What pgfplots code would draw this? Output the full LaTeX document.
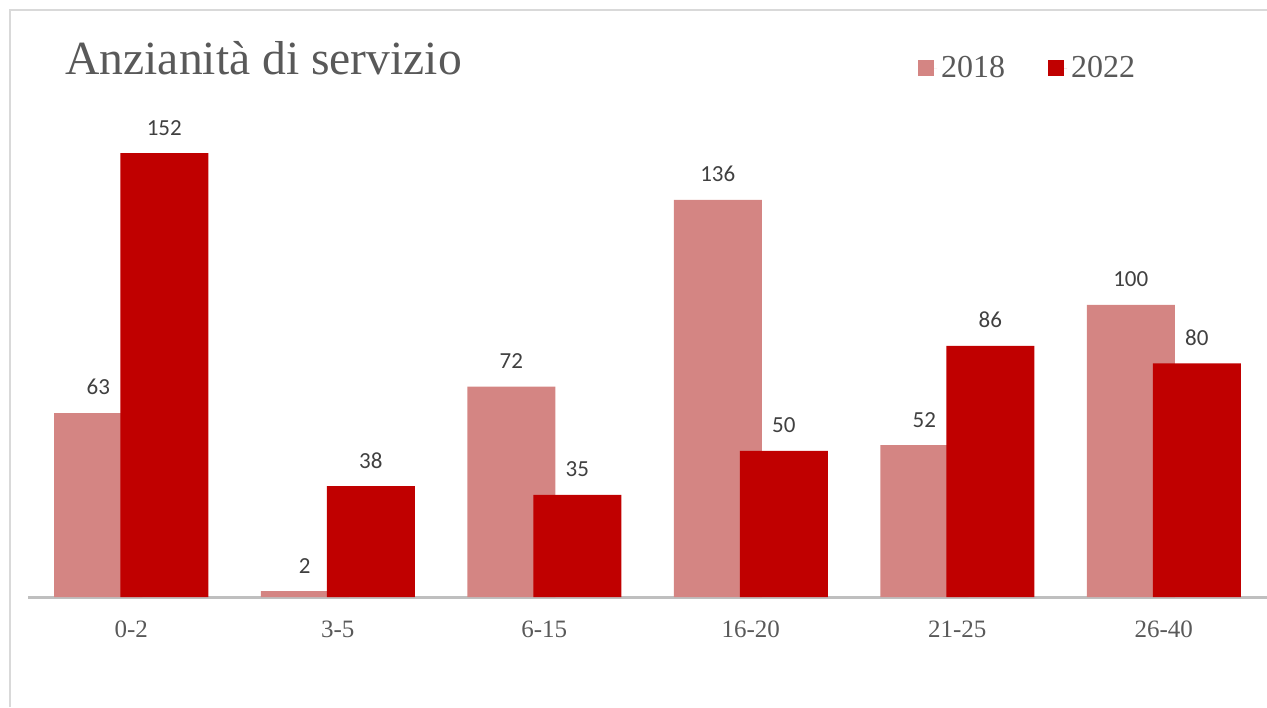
\documentclass[border=0pt]{standalone}
\usepackage{pgfplots}
\pgfplotsset{compat=1.18}
\usepackage{fontspec}
\setmainfont{Liberation Serif}
\newfontfamily\lab{Carlito}
\definecolor{cpink}{HTML}{D48583}
\definecolor{cred}{HTML}{C00000}
\definecolor{ctext}{HTML}{595959}
\definecolor{clab}{HTML}{404040}
\definecolor{cborder}{HTML}{D9D9D9}
\definecolor{caxis}{HTML}{BFBFBF}
\begin{document}
\begin{tikzpicture}
\useasboundingbox (0,0) rectangle (633.5pt,353.5pt);
\draw[cborder, line width=0.6pt] (5pt,0) -- (5pt,348.5pt) -- (633.5pt,348.5pt);
\node[anchor=base west, inner sep=0pt, text=ctext, font=\fontsize{23.8}{28}\selectfont] at (32.5pt,316pt) {Anzianità di servizio};
\begin{axis}[
  at={(14pt,55pt)}, anchor=south west,
  scale only axis, width=619.5pt, height=233.65pt,
  xmin=-0.5, xmax=5.5, ymin=0, ymax=160,
  axis y line=none, axis x line*=bottom,
  x axis line style={caxis, line width=1.5pt, -},
  xtick={0,1,2,3,4,5}, xticklabels={0-2,3-5,6-15,16-20,21-25,26-40},
  major tick length=0pt,
  xticklabel style={font=\fontsize{12.5}{14}\selectfont, text=ctext, anchor=base, yshift=-20pt},
  /pgf/number format/assume math mode=true,
  ybar, bar width=44pt,
  nodes near coords,
  every node near coord/.append style={font=\lab\fontsize{11.5}{13}\selectfont, text=clab, anchor=base, yshift=9pt},
  legend columns=2,
  legend style={at={(0.718,1.132)}, anchor=west, draw=none, fill=none, inner sep=0pt,
    font=\fontsize{16}{18}\selectfont, text=ctext,
    /tikz/every even column/.append style={column sep=19.5pt}},
  clip=false,
]
\addplot[fill=cpink, draw=none, bar shift=-16.5pt,
  legend image code/.code={\fill[cpink] (0pt,-4pt) rectangle (8pt,4pt); \path (8pt,0pt) -- (9.5pt,0pt);}]
  coordinates {(0,63) (1,2) (2,72) (3,136) (4,52) (5,100)};
\addlegendentry{2018}
\addplot[fill=cred, draw=none, bar shift=16.5pt,
  legend image code/.code={\fill[cred] (0pt,-4pt) rectangle (8pt,4pt); \path (8pt,0pt) -- (9.5pt,0pt);}]
  coordinates {(0,152) (1,38) (2,35) (3,50) (4,86) (5,80)};
\addlegendentry{2022}
\end{axis}
\end{tikzpicture}
\end{document}
